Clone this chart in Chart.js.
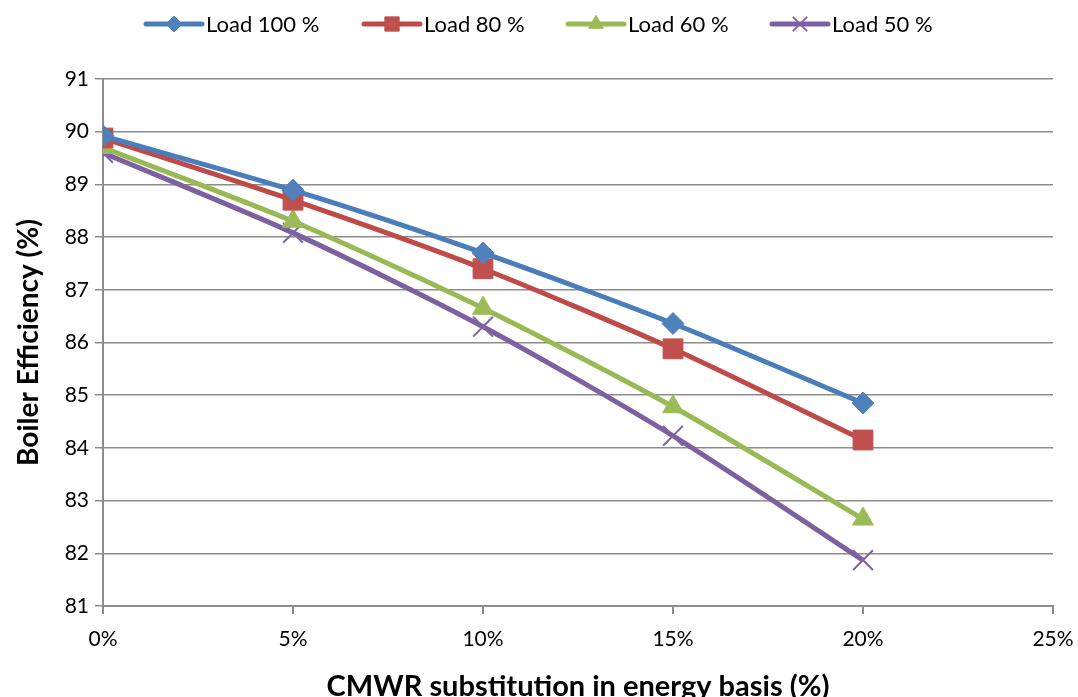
<!DOCTYPE html>
<html>
<head>
<meta charset="utf-8">
<script src="https://cdn.jsdelivr.net/npm/chart.js@4"></script>
<style>
  html, body { margin: 0; padding: 0; background: #fff; }
  #wrap { width: 1078px; height: 697px; }
</style>
</head>
<body>
<div id="wrap"><canvas id="boiler-chart"></canvas></div>
<script>
// substitution levels (%)
var substitution = [0, 5, 10, 15, 20];
var xTicks = [0, 5, 10, 15, 20, 25];

// boiler efficiency (%) per load
var load100 = [89.92, 88.89, 87.70, 86.36, 84.85];
var load80  = [89.88, 88.70, 87.40, 85.88, 84.15];
var load60  = [89.70, 88.30, 86.65, 84.78, 82.65];
var load50  = [89.60, 88.08, 86.30, 84.23, 81.87];

var seriesNames = ['Load 100 %', 'Load 80 %', 'Load 60 %', 'Load 50 %'];

function toPoints(values) {
  return substitution.map(function(x, i) { return { x: x, y: values[i] }; });
}

var gridGray = '#8c8c8c';
var fontName = 'Lato, "Open Sans", sans-serif';

////// legend drawn like the spreadsheet one (line + marker) /////////
var lineLegend = {
  id: 'lineLegend',
  afterDraw: function(chart) {
    var ctx = chart.ctx;
    var starts = [146, 364, 568, 772];
    var y = 24;
    chart.data.datasets.forEach(function(ds, i) {
      var x0 = starts[i];
      ctx.save();
      ctx.strokeStyle = ds.borderColor;
      ctx.lineWidth = 5;
      ctx.lineCap = 'round';
      ctx.beginPath();
      ctx.moveTo(x0, y);
      ctx.lineTo(x0 + 56, y);
      ctx.stroke();
      ctx.restore();
      ctx.save();
      ctx.strokeStyle = ds.pointBorderColor;
      ctx.fillStyle = ds.pointBackgroundColor;
      ctx.lineWidth = ds.pointBorderWidth;
      Chart.helpers.drawPoint(ctx, {
        pointStyle: ds.pointStyle,
        radius: ds.pointRadius * 0.72,
        borderWidth: ds.pointBorderWidth
      }, x0 + 28, y);
      ctx.restore();
      ctx.save();
      ctx.fillStyle = '#000';
      ctx.font = '22px ' + fontName;
      ctx.textBaseline = 'middle';
      ctx.fillText(seriesNames[i], x0 + 60, y + 1);
      ctx.restore();
    });
  }
};

function series(label, values, lineColor, markerColor, style, radius) {
  return {
    label: label,
    data: toPoints(values),
    borderColor: lineColor,
    backgroundColor: markerColor,
    borderWidth: 5,
    tension: 0.25,
    pointStyle: style,
    pointRadius: radius,
    pointHoverRadius: radius,
    pointBackgroundColor: markerColor,
    pointBorderColor: markerColor,
    pointBorderWidth: style === 'crossRot' ? 2 : 1
  };
}

const ctx_boiler = document.getElementById('boiler-chart');
new Chart(ctx_boiler, {
  type: 'line',
  data: {
    datasets: [
      series(seriesNames[0], load100, '#4A7EBB', '#4F81BD', 'rectRot', 11),
      series(seriesNames[1], load80, '#BE4B48', '#C0504D', 'rect', 14),
      series(seriesNames[2], load60, '#98B954', '#9BBB59', 'triangle', 12),
      series(seriesNames[3], load50, '#7D60A0', '#8064A2', 'crossRot', 14)
    ]
  },
  options: {
    responsive: true,
    maintainAspectRatio: false,
    animation: false,
    layout: { padding: { top: 79, left: 0, right: 25, bottom: 0 } },
    plugins: {
      legend: { display: false },
      tooltip: { enabled: false }
    },
    scales: {
      x: {
        type: 'linear',
        min: 0,
        max: 25,
        afterBuildTicks: function(scale) {
          scale.ticks = xTicks.map(function(v) { return { value: v }; });
        },
        afterFit: function(scale) {
          scale.height = 91;
          scale.paddingLeft = 0;
          scale.paddingRight = 0;
        },
        border: { color: gridGray, width: 2 },
        grid: { drawOnChartArea: false, drawTicks: true, tickLength: 8, color: gridGray, lineWidth: 2 },
        ticks: {
          color: '#000',
          padding: 13,
          maxRotation: 0,
          font: { family: fontName, size: 21 },
          callback: function(v) { return v + '%'; }
        },
        title: {
          display: true,
          text: 'CMWR substitution in energy basis (%)',
          color: '#000',
          padding: { top: 0, bottom: -7 },
          font: { family: fontName, size: 29, weight: 'bold' }
        }
      },
      y: {
        min: 81,
        max: 91,
        afterFit: function(scale) {
          scale.width = 103;
          scale.paddingTop = 0;
          scale.paddingBottom = 0;
        },
        border: { color: gridGray, width: 2 },
        grid: { color: gridGray, lineWidth: 1.5, tickLength: 8 },
        ticks: {
          stepSize: 1,
          color: '#000',
          padding: 6,
          font: { family: fontName, size: 21 }
        },
        title: {
          display: true,
          text: 'Boiler Efficiency (%)',
          color: '#000',
          padding: { top: 12, bottom: 0 },
          font: { family: fontName, size: 28, weight: 'bold' }
        }
      }
    }
  },
  plugins: [lineLegend]
});
</script>
</body>
</html>
